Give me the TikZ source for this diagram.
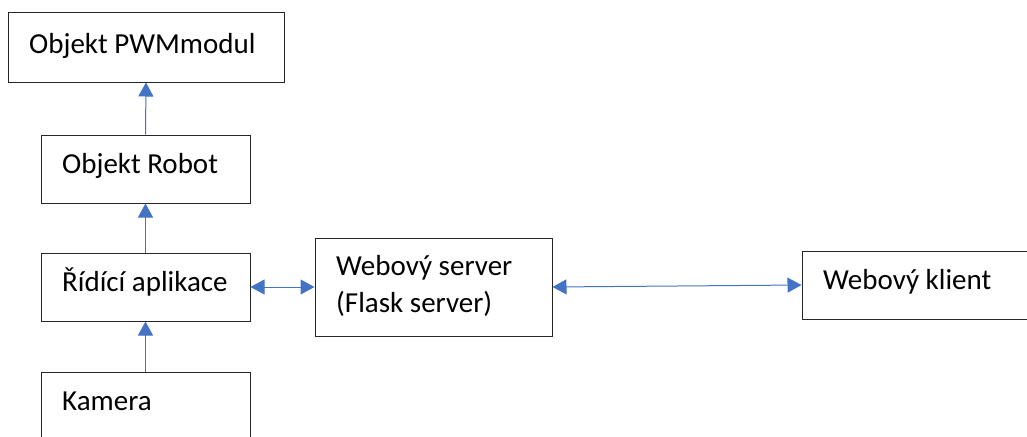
\documentclass[tikz,border=0pt]{standalone}
\usepackage{fontspec}
\setmainfont{Carlito}
\usetikzlibrary{arrows.meta}
\definecolor{linkblue}{HTML}{4472C4}
\tikzset{
  box/.style={draw=black!85, line width=1pt, rectangle, inner sep=0pt, fill=white},
  txt/.style={inner sep=0pt, anchor=base west, font=\fontsize{29}{37}\selectfont, text=black, align=left},
  arr/.style={draw=linkblue, line width=1pt, -{Triangle[length=14pt,width=15pt]}},
  biarr/.style={draw=linkblue, line width=1pt, {Triangle[length=14pt,width=15pt]}-{Triangle[length=14pt,width=15pt]}}
}
\begin{document}
\begin{tikzpicture}[x=1pt, y=-1pt]
  \useasboundingbox (0,0) rectangle (1027,436);
  \clip (0,0) rectangle (1027,436);

  % boxes
  \node[box, minimum width=276pt, minimum height=69pt] (pwm) at (146,47.5) {};
  \node[box, minimum width=209pt, minimum height=68pt] (rob) at (145.5,169) {};
  \node[box, minimum width=209pt, minimum height=68pt] (rid) at (145.5,287) {};
  \node[box, minimum width=209pt, minimum height=68pt] (kam) at (145.5,406) {};
  \node[box, minimum width=237pt, minimum height=98pt] (srv) at (433.5,287) {};
  \node[box, minimum width=237pt, minimum height=68pt] (kli) at (920.5,285) {};

  % labels
  \node[txt] (tpwm) at (29,53) {Objekt PWMmodul};
  \node[txt] (trob) at (62,173) {Objekt Robot};
  \node[txt] (trid) at (62,291) {Řídící aplikace};
  \node[txt] (tkam) at (62,410) {Kamera};
  \node[txt] (tsrv1) at (336,275) {Webový server};
  \node[txt] (tsrv2) at (336,312) {(Flask server)};
  \node[txt] (tkli) at (823,289) {Webový klient};

  % connectors
  \draw[arr] (rob.north) -- (pwm.south);
  \draw[arr] (rid.north) -- (rob.south);
  \draw[arr] (kam.north) -- (rid.south);
  \draw[biarr] (rid.east) -- (srv.west);
  \draw[biarr] (srv.east) -- (kli.west);
\end{tikzpicture}
\end{document}
